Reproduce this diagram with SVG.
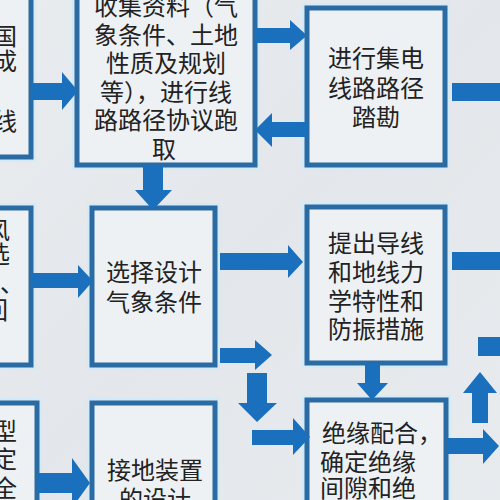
<svg xmlns="http://www.w3.org/2000/svg" width="500" height="500" viewBox="0 0 500 500">
<defs>
<linearGradient id="bg" x1="0" y1="0" x2="1" y2="1">
<stop offset="0" stop-color="#e9ecef"/>
<stop offset="0.5" stop-color="#e3e7eb"/>
<stop offset="1" stop-color="#e8ebee"/>
</linearGradient>
<style>
.box{fill:#eef1f4;stroke:#2a6ba3;stroke-width:5}
.glow{fill:none;stroke:#d4ebf7;stroke-width:10}
.arr{fill:#1a70bd}
text{font-family:"Noto Sans CJK SC","Noto Sans",sans-serif;font-size:24px;fill:#222}
.c{text-anchor:middle}
</style>
</defs>
<rect width="500" height="500" fill="url(#bg)"/>

<g id="nodeA">
<rect class="glow" x="-20" y="-20" width="51" height="177"/>
<rect class="box" x="-20" y="-20" width="51" height="177"/>
<text x="-7" y="45">国</text>
<text x="-7" y="70">成</text>
<text x="-7" y="130">线</text>
</g>
<g id="nodeB">
<rect class="glow" x="77" y="-10" width="178" height="175"/>
<rect class="box" x="77" y="-10" width="178" height="175"/>
<text class="c" x="166" y="15">收集资料（气</text>
<text class="c" x="166" y="43.5">象条件、土地</text>
<text class="c" x="166" y="72">性质及规划</text>
<text class="c" x="166" y="100.5">等），进行线</text>
<text class="c" x="166" y="129">路路径协议跑</text>
<text class="c" x="164" y="158">取</text>
</g>
<g id="nodeC">
<rect class="glow" x="307" y="8" width="138" height="157"/>
<rect class="box" x="307" y="8" width="138" height="157"/>
<text class="c" x="376" y="67">进行集电</text>
<text class="c" x="376" y="97">线路路径</text>
<text class="c" x="376" y="126">踏勘</text>
</g>
<g id="nodeE">
<rect class="glow" x="-20" y="208" width="51" height="157"/>
<rect class="box" x="-20" y="208" width="51" height="157"/>
<text x="-14" y="239">风</text>
<text x="-14" y="263">选</text>
<text x="0" y="292">、</text>
<text x="-16" y="319">回</text>
</g>
<g id="nodeD">
<rect class="glow" x="92" y="208" width="123" height="157"/>
<rect class="box" x="92" y="208" width="123" height="157"/>
<text class="c" x="154" y="281">选择设计</text>
<text class="c" x="154" y="311">气象条件</text>
</g>
<g id="nodeF">
<rect class="glow" x="307" y="207" width="138" height="156"/>
<rect class="box" x="307" y="207" width="138" height="156"/>
<text class="c" x="376" y="252">提出导线</text>
<text class="c" x="376" y="281">和地线力</text>
<text class="c" x="376" y="310">学特性和</text>
<text class="c" x="376" y="338">防振措施</text>
</g>
<g id="nodeH">
<rect class="glow" x="-20" y="403" width="57" height="120"/>
<rect class="box" x="-20" y="403" width="57" height="120"/>
<text x="-7" y="440">型</text>
<text x="-7" y="468">定</text>
<text x="-7" y="497">全</text>
</g>
<g id="nodeI">
<rect class="glow" x="92" y="403" width="123" height="120"/>
<rect class="box" x="92" y="403" width="123" height="120"/>
<text class="c" x="155" y="479">接地装置</text>
<text class="c" x="155" y="508">的设计</text>
</g>
<g id="nodeG">
<rect class="glow" x="307" y="400" width="139" height="120"/>
<rect class="box" x="307" y="400" width="139" height="120"/>
<text x="322" y="442">绝缘配合，</text>
<text x="320" y="471">确定绝缘</text>
<text x="320" y="497">间隙和绝</text>
</g>

<g id="connectors">
<polygon class="arr" points="31,83 62,83 62,72 78,91 62,110 62,100 31,100"/>
<polygon class="arr" points="255,28 290,28 290,20 307,35.5 290,50 290,43 255,43"/>
<polygon class="arr" points="307,122 272,122 272,113 255,130 272,147 272,137 307,137"/>
<polygon class="arr" points="143,165 163,165 163,190 172,190 153,210 135,190 143,190"/>
<polygon class="arr" points="31,273 78,273 78,265 93,281 78,298 78,288 31,288"/>
<polygon class="arr" points="220,253 288,253 288,245 303,262 288,278 288,270 220,270"/>
<polygon class="arr" points="220,348 255,348 255,340 272,355 255,370 255,363 220,363"/>
<polygon class="arr" points="247,373 267,373 267,403 277,403 257,422 238,403 247,403"/>
<polygon class="arr" points="252,430 293,430 293,418 310,437 293,455 293,445 252,445"/>
<polygon class="arr" points="365,363 380,363 380,383 388,383 372,400 357,383 365,383"/>
<polygon class="arr" points="447,438 483,438 483,429 499,446 483,464 483,454 447,454"/>
<polygon class="arr" points="472,423 472,393 463,393 480,372 497,393 488,393 488,423"/>
<polygon class="arr" points="38,473 72,473 72,458 90,483 72,508 72,493 38,493"/>
<rect class="arr" x="478" y="337" width="22" height="19"/>
<rect class="arr" x="452" y="252" width="48" height="18"/>
<rect class="arr" x="452" y="83" width="48" height="18"/>
</g>
</svg>
